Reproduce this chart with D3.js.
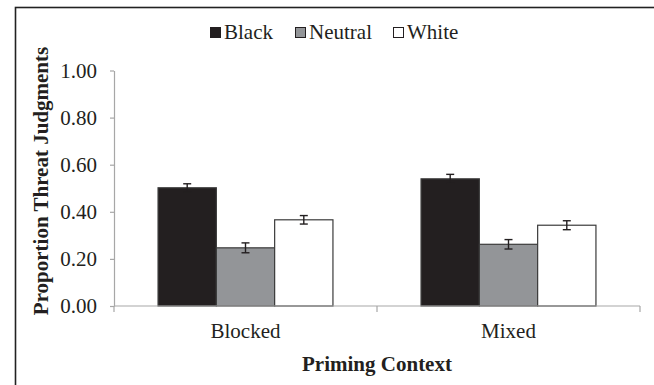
<!DOCTYPE html>
<html>
<head>
<meta charset="utf-8">
<script src="https://cdn.jsdelivr.net/npm/d3@7"></script>
<style>
  html, body { margin: 0; padding: 0; background: #fff; }
  svg { display: block; font-family: "Liberation Serif", "Times New Roman", serif; }
</style>
</head>
<body>
<svg id="chart" width="654" height="385"></svg>
<script>
// Priming contexts on the x axis
const contexts = ["Blocked", "Mixed"];
// Prime types (series)
const primes = ["Black", "Neutral", "White"];
// Mean proportion of threat judgments, per prime, in context order
const blackMeans   = [0.502, 0.540];
const neutralMeans = [0.247, 0.262];
const whiteMeans   = [0.366, 0.343];
// Standard errors, same layout
const blackErr   = [0.017, 0.019];
const neutralErr = [0.021, 0.020];
const whiteErr   = [0.018, 0.019];
// Y tick values
const yTicks = [0, 0.2, 0.4, 0.6, 0.8, 1.0];

const means = { Black: blackMeans, Neutral: neutralMeans, White: whiteMeans };
const errs  = { Black: blackErr,   Neutral: neutralErr,   White: whiteErr };
const fills = { Black: "#231f20", Neutral: "#939598", White: "#ffffff" };

const svg = d3.select("#chart");

// outer frame
svg.append("rect")
  .attr("x", 15.5).attr("y", 7.5)
  .attr("width", 700).attr("height", 420)
  .attr("fill", "none").attr("stroke", "#222").attr("stroke-width", 1.6);

const plotLeft = 114, plotRight = 640, plotTop = 70.5, plotBottom = 306;

const x0 = d3.scaleBand().domain(contexts).range([plotLeft, plotRight])
  .paddingInner(0.335).paddingOuter(0.1675);
const x1 = d3.scaleBand().domain(primes).range([0, x0.bandwidth()]).padding(0);
const y = d3.scaleLinear().domain([0, 1]).range([plotBottom, plotTop]);

const axisColor = "#a7a7a7";

// y axis
const yAxis = svg.append("g")
  .attr("transform", `translate(${plotLeft},0)`)
  .call(d3.axisLeft(y).tickValues(yTicks).tickFormat(d3.format(".2f")).tickSizeOuter(0).tickSizeInner(4).tickPadding(13));
yAxis.select(".domain").attr("stroke", axisColor).attr("stroke-width", 1.2);
yAxis.selectAll(".tick line").attr("stroke", axisColor).attr("stroke-width", 1.2);
yAxis.selectAll(".tick text")
  .attr("font-family", "Liberation Serif").attr("font-size", 21).attr("fill", "#231f20");

// bars
const rows = (c, i) => primes.map(p => ({ p, v: means[p][i], e: errs[p][i] }));
const groups = svg.append("g").selectAll("g")
  .data(contexts).join("g")
  .attr("transform", d => `translate(${x0(d)},0)`);

groups.selectAll("rect")
  .data(rows)
  .join("rect")
  .attr("x", d => x1(d.p))
  .attr("y", d => y(d.v))
  .attr("width", x1.bandwidth())
  .attr("height", d => y(0) - y(d.v))
  .attr("fill", d => fills[d.p])
  .attr("stroke", "#3b3b3b").attr("stroke-width", 1.2);

// error bars
const eb = groups.selectAll("g.err")
  .data(rows)
  .join("g").attr("class", "err")
  .attr("transform", d => `translate(${x1(d.p) + x1.bandwidth() / 2},0)`);
eb.append("line").attr("x1", 0).attr("x2", 0)
  .attr("y1", d => y(d.v + d.e)).attr("y2", d => y(d.v - d.e))
  .attr("stroke", "#231f20").attr("stroke-width", 1.4);
eb.selectAll("line.cap")
  .data(d => [d.v + d.e, d.v - d.e])
  .join("line").attr("class", "cap")
  .attr("x1", -4).attr("x2", 4)
  .attr("y1", v => y(v)).attr("y2", v => y(v))
  .attr("stroke", "#231f20").attr("stroke-width", 1.4);

// x axis (drawn over bar bottoms)
const xAxisG = svg.append("g").attr("transform", `translate(0,${plotBottom})`);
xAxisG.append("line").attr("x1", plotLeft).attr("x2", plotRight)
  .attr("stroke", axisColor).attr("stroke-width", 1.2);
// category boundary ticks
const bounds = d3.range(contexts.length + 1).map(k => plotLeft + x0.step() * k);
xAxisG.selectAll("line.tk").data(bounds).join("line").attr("class", "tk")
  .attr("x1", d => d).attr("x2", d => d).attr("y1", 0).attr("y2", 6)
  .attr("stroke", axisColor).attr("stroke-width", 1.2);
xAxisG.selectAll("text").data(contexts).join("text")
  .attr("x", d => x0(d) + x0.bandwidth() / 2)
  .attr("y", 32)
  .attr("text-anchor", "middle")
  .attr("font-size", 21).attr("fill", "#231f20")
  .text(d => d);

// axis titles
svg.append("text")
  .attr("x", (plotLeft + plotRight) / 2).attr("y", 371)
  .attr("text-anchor", "middle")
  .attr("font-size", 21).attr("font-weight", "bold").attr("fill", "#231f20")
  .text("Priming Context");

svg.append("text")
  .attr("transform", `translate(48,${(44 + 318) / 2}) rotate(-90)`)
  .attr("text-anchor", "middle")
  .attr("font-size", 21).attr("font-weight", "bold").attr("fill", "#231f20")
  .text("Proportion Threat Judgments");

// legend
const legendX = [210, 295, 393];
const legend = svg.append("g").selectAll("g").data(primes).join("g")
  .attr("transform", (d, i) => `translate(${legendX[i]},27)`);
legend.append("rect")
  .attr("x", 0.5).attr("y", 0.5).attr("width", 10).attr("height", 10)
  .attr("fill", d => fills[d]).attr("stroke", "#231f20").attr("stroke-width", 1);
legend.append("text")
  .attr("x", 14).attr("y", 11.5)
  .attr("font-size", 21).attr("fill", "#231f20")
  .text(d => d);
</script>
</body>
</html>
